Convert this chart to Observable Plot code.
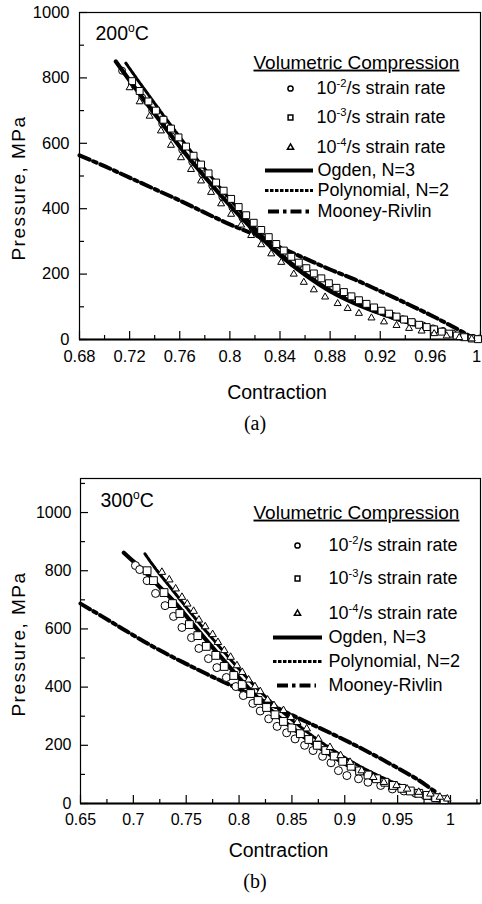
<!DOCTYPE html>
<html>
<head>
<meta charset="utf-8">
<script src="https://cdn.jsdelivr.net/npm/d3@7"></script>
<script src="https://cdn.jsdelivr.net/npm/@observablehq/plot@0.6"></script>
<style>
  body { margin: 0; background: #fff; }
  #page { position: relative; width: 482px; height: 904px; overflow: hidden; background: #fff; }
  .panel { position: absolute; left: 0; }
  .cap { position: absolute; width: 60px; text-align: center; font-family: "Liberation Serif", "Times New Roman", serif; font-size: 20px; line-height: 20px; color: #000; }
</style>
</head>
<body>
<div id="page">
  <div class="panel" id="panelA" style="top:0px"></div>
  <div class="cap" style="left:225px; top:413px">(a)</div>
  <div class="panel" id="panelB" style="top:460px"></div>
  <div class="cap" style="left:225px; top:871px">(b)</div>
</div>
<script>
// ---------- Axis ticks ----------
const xTicksA = [0.68, 0.72, 0.76, 0.8, 0.84, 0.88, 0.92, 0.96, 1];
const xMinorA = [0.70, 0.74, 0.78, 0.82, 0.86, 0.90, 0.94, 0.98];
const yTicksA = [0, 200, 400, 600, 800, 1000];
const yMinorA = [100, 300, 500, 700, 900];

const xTicksB = [0.65, 0.7, 0.75, 0.8, 0.85, 0.9, 0.95, 1];
const xMinorB = [0.675, 0.725, 0.775, 0.825, 0.875, 0.925, 0.975, 1.025];
const yTicksB = [0, 200, 400, 600, 800, 1000];
const yMinorB = [100, 300, 500, 700, 900, 1100];

// ---------- Labels ----------
const tempA = "200^o^C";
const tempB = "300^o^C";
const legendTitle = "Volumetric Compression";
const rateLabels = ["10^-2^/s strain rate", "10^-3^/s strain rate", "10^-4^/s strain rate"];
const modelLabels = ["Ogden, N=3", "Polynomial, N=2", "Mooney-Rivlin"];
const xLabel = "Contraction";
const yLabel = "Pressure, MPa";

// ---------- (a) 200°C : [contraction, pressure MPa] ----------
const circlesA = [[0.714,822],[0.722,781],[0.730,740],[0.738,700],[0.746,660],[0.754,620],[0.762,580],[0.770,543],[0.778,506],[0.786,470],[0.794,436],[0.802,404],[0.810,372],[0.818,342],[0.826,312],[0.834,285],[0.842,259],[0.850,234],[0.858,212],[0.866,191],[0.874,171],[0.882,153],[0.890,137],[0.898,122],[0.906,108],[0.914,95],[0.922,83],[0.930,72],[0.938,62],[0.946,52],[0.954,43],[0.962,34],[0.970,26],[0.978,18],[0.986,11],[0.994,5],[0.999,3]];
const squaresA = [[0.722,790],[0.728,760],[0.735,728],[0.741,700],[0.747,672],[0.753,645],[0.759,618],[0.765,590],[0.771,562],[0.777,535],[0.783,508],[0.789,480],[0.795,455],[0.801,430],[0.807,405],[0.813,380],[0.819,357],[0.825,335],[0.831,313],[0.837,292],[0.843,272],[0.849,253],[0.855,235],[0.861,218],[0.867,202],[0.873,187],[0.879,172],[0.885,158],[0.891,145],[0.897,132],[0.903,120],[0.909,109],[0.915,98],[0.921,88],[0.927,79],[0.933,70],[0.939,61],[0.945,53],[0.951,45],[0.957,38],[0.963,31],[0.969,24],[0.975,18],[0.981,12],[0.987,7],[0.993,3],[0.998,1]];
const trianglesA = [[0.720,770],[0.728,727],[0.736,683],[0.745,638],[0.753,594],[0.761,556],[0.769,520],[0.777,485],[0.785,450],[0.793,415],[0.801,383],[0.809,350],[0.817,318],[0.825,290],[0.833,262],[0.841,236],[0.851,200],[0.859,175],[0.867,152],[0.876,130],[0.886,110],[0.894,95],[0.903,80],[0.913,66],[0.923,54],[0.933,43],[0.943,34],[0.953,26],[0.963,18],[0.973,11],[0.983,6],[0.993,2]];
const ogdenA = [[0.709,850],[0.72,792],[0.74,690],[0.76,590],[0.78,497],[0.80,410],[0.82,330],[0.84,258],[0.86,198],[0.88,148],[0.90,110],[0.92,80],[0.94,55],[0.96,33],[0.98,14],[0.995,2]];
const polynomialA = [[0.717,845],[0.73,775],[0.75,670],[0.77,570],[0.79,475],[0.81,385],[0.83,300],[0.85,232],[0.87,176],[0.89,130],[0.91,94],[0.93,66],[0.95,42],[0.97,22],[0.99,6],[1.0,0]];
const mooneyA = [[0.68,563],[0.70,530],[0.72,495],[0.74,460],[0.76,425],[0.78,388],[0.80,352],[0.82,320],[0.84,282],[0.86,248],[0.88,214],[0.90,183],[0.92,148],[0.94,112],[0.96,75],[0.98,35],[0.995,3]];

// ---------- (b) 300°C : [contraction, pressure MPa] ----------
const circlesB = [[0.702,818],[0.706,804],[0.713,766],[0.721,722],[0.730,680],[0.738,643],[0.746,605],[0.755,570],[0.762,533],[0.771,498],[0.779,467],[0.788,433],[0.797,402],[0.804,371],[0.813,344],[0.820,318],[0.828,291],[0.836,265],[0.845,243],[0.853,222],[0.862,200],[0.870,182],[0.879,162],[0.887,140],[0.894,113],[0.902,96],[0.913,85],[0.922,73],[0.934,62],[0.945,50],[0.956,43],[0.967,35],[0.976,27],[0.987,20],[0.995,13]];
const squaresB = [[0.713,800],[0.719,766],[0.729,725],[0.737,687],[0.744,653],[0.753,615],[0.761,577],[0.769,540],[0.778,509],[0.786,471],[0.795,440],[0.803,409],[0.811,378],[0.818,354],[0.826,330],[0.834,305],[0.842,282],[0.850,260],[0.858,240],[0.866,220],[0.874,200],[0.882,182],[0.890,163],[0.898,145],[0.906,128],[0.914,112],[0.922,98],[0.930,85],[0.938,73],[0.946,62],[0.954,52],[0.962,43],[0.970,35],[0.978,28],[0.986,20],[0.994,13]];
const trianglesB = [[0.727,795],[0.734,769],[0.740,738],[0.746,709],[0.751,686],[0.757,661],[0.762,631],[0.768,608],[0.775,581],[0.780,554],[0.786,526],[0.792,503],[0.798,474],[0.803,451],[0.809,425],[0.815,402],[0.820,385],[0.827,356],[0.833,337],[0.842,320],[0.849,296],[0.855,279],[0.864,257],[0.875,222],[0.886,193],[0.896,165],[0.905,142],[0.916,113],[0.927,90],[0.937,73],[0.949,62],[0.959,50],[0.970,39],[0.981,33],[0.990,22],[0.997,16]];
const ogdenB = [[0.691,862],[0.70,832],[0.71,800],[0.72,762],[0.74,688],[0.76,600],[0.78,515],[0.80,432],[0.82,355],[0.84,290],[0.86,233],[0.88,182],[0.90,137],[0.92,100],[0.94,68],[0.96,42],[0.98,20],[0.995,5]];
const polynomialB = [[0.711,858],[0.72,812],[0.74,720],[0.76,630],[0.78,545],[0.80,462],[0.82,385],[0.84,318],[0.86,258],[0.88,205],[0.90,158],[0.92,117],[0.94,82],[0.96,52],[0.98,25],[0.995,6]];
const mooneyB = [[0.65,687],[0.67,644],[0.69,600],[0.71,557],[0.73,517],[0.75,480],[0.77,444],[0.79,410],[0.81,376],[0.83,340],[0.85,304],[0.87,270],[0.89,236],[0.91,200],[0.93,162],[0.95,122],[0.97,80],[0.985,42]];

// ---------- Shared styles ----------
const FONT = "'Liberation Sans', Arial, Helvetica, sans-serif";
const lineStyles = [
  {strokeWidth: 4.2, strokeDasharray: null},          // Ogden
  {strokeWidth: 3.0, strokeDasharray: "3.5,1.5"},     // Polynomial
  {strokeWidth: 4.0, strokeDasharray: "11,4,3.5,4"}   // Mooney-Rivlin
];
const XY = {x: d => d[0], y: d => d[1]};

function panel(cfg) {
  const W = 482;
  const fw = W - cfg.marginLeft - cfg.marginRight;
  const fh = cfg.height - cfg.marginTop - cfg.marginBottom;
  const frameTop = cfg.top + cfg.marginTop;      // page y of the frame top
  const midY = cfg.marginTop + fh / 2;           // svg y of the frame middle
  const L = cfg.legend;
  // legend helpers (page coordinates -> offsets from the frame corner)
  const at = (px, py) => ({frameAnchor: "top-left", dx: px - cfg.marginLeft, dy: py - frameTop});
  const label = (t, px, py, fs) => Plot.text([t], {text: d => d, ...at(px, py), textAnchor: "start", lineAnchor: "middle", fontSize: fs, fill: "#000"});
  const sample = (i, x1, x2, py) => Plot.ruleY([0], {
    y: null, insetLeft: x1 - cfg.marginLeft, insetRight: W - cfg.marginRight - x2,
    dy: py - cfg.top - midY, stroke: "#000", ...lineStyles[i], strokeLinecap: "butt"
  });
  const S = cfg.series;
  const dots = (data, symbol, r) => Plot.dot(data, {...XY, symbol, r, stroke: "#000", fill: "#fff", strokeWidth: 1});
  const curve = (data, i) => Plot.line(data, {...XY, stroke: "#000", ...lineStyles[i], curve: "catmull-rom"});
  // tick labels; a label sitting on the right edge is nudged inside
  const xMax = cfg.xDomain[1];
  const inner = cfg.xTicks.filter(t => t < xMax);
  const edge = cfg.xTicks.filter(t => t >= xMax);
  const xAxisOpts = {tickSize: 0, tickPadding: cfg.xPad, fontSize: cfg.tickFont, tickFormat: d => String(d), label: null};

  const marks = [
    // frame, heavier base line and inward ticks
    Plot.frame({stroke: "#000", strokeWidth: 1.2}),
    Plot.ruleY([0], {stroke: "#000", strokeWidth: 2}),
    Plot.tickY(cfg.yTicks, {y: d => d, insetRight: fw - 8, stroke: "#000", strokeWidth: 1.2}),
    Plot.tickY(cfg.yMinor, {y: d => d, insetRight: fw - 5, stroke: "#000", strokeWidth: 1.2}),
    Plot.tickX(cfg.xTicks, {x: d => d, insetTop: fh - 8, stroke: "#000", strokeWidth: 1.2}),
    Plot.tickX(cfg.xMinor, {x: d => d, insetTop: fh - 4, stroke: "#000", strokeWidth: 1.2}),
    Plot.axisX(inner, xAxisOpts),
    Plot.axisX(edge, {...xAxisOpts, dx: -4}),
    Plot.axisY(cfg.yTicks, {tickSize: 0, tickPadding: cfg.yPad, fontSize: cfg.tickFont, tickFormat: d => String(d), label: null}),
    // axis titles
    Plot.text([xLabel], {text: d => d, frameAnchor: "bottom", textAnchor: "middle", lineAnchor: "middle", dx: cfg.xLabelDx, dy: cfg.xLabelDy, fontSize: 19.5, fill: "#000"}),
    Plot.text([yLabel], {text: d => d, frameAnchor: "left", textAnchor: "middle", lineAnchor: "middle", dx: cfg.yLabelDx, dy: cfg.yLabelDy, rotate: -90, fontSize: 19, fill: "#000"}),
    // data
    curve(S.mooney, 2)
  ];
  if (cfg.linesOverDots) {
    marks.push(dots(S.circles, "circle", cfg.rc), curve(S.ogden, 0), curve(S.polynomial, 1),
               dots(S.squares, "square", cfg.rs), dots(S.triangles, "triangle", cfg.rt));
  } else {
    marks.push(curve(S.ogden, 0), curve(S.polynomial, 1),
               dots(S.circles, "circle", cfg.rc), dots(S.squares, "square", cfg.rs), dots(S.triangles, "triangle", cfg.rt));
  }
  // temperature tag and legend
  marks.push(
    label(cfg.temp, L.tempX, L.tempY, 19.5),
    label(legendTitle, L.titleX, L.titleY, 19),
    Plot.dot([0], {...at(L.symX, L.rows[0]), symbol: "circle", r: 2.6, stroke: "#000", fill: "#fff"}),
    Plot.dot([0], {...at(L.symX, L.rows[1]), symbol: "square", r: 2.7, stroke: "#000", fill: "#fff"}),
    Plot.dot([0], {...at(L.symX, L.rows[2]), symbol: "triangle", r: 2.3, stroke: "#000", fill: "#fff"}),
    ...rateLabels.map((t, i) => label(t, L.textX, L.rows[i], 18)),
    ...modelLabels.map((t, i) => sample(i, L.lines[i][0], L.lines[i][1], L.rows[3 + i])),
    ...modelLabels.map((t, i) => label(t, L.modelTextX, L.rows[3 + i], 18))
  );

  return Plot.plot({
    width: W,
    height: cfg.height,
    marginTop: cfg.marginTop,
    marginBottom: cfg.marginBottom,
    marginLeft: cfg.marginLeft,
    marginRight: cfg.marginRight,
    x: {domain: cfg.xDomain},
    y: {domain: cfg.yDomain},
    style: {fontFamily: FONT, fontSize: "16px", color: "#000", background: "#fff", overflow: "visible"},
    marks
  });
}

// Rewrites "a^b^c" text into a base, superscript and trailing part; underlines the legend title.
function finishText(svg) {
  d3.select(svg).selectAll("text").each(function () {
    const s = this.textContent;
    if (s === legendTitle) d3.select(this).attr("text-decoration", "underline");
    if (s === yLabel) d3.select(this).style("letter-spacing", "1.5px");
    const m = s.match(/^(.*?)\^(.+?)\^(.*)$/);
    if (!m) return;
    const fs = parseFloat(getComputedStyle(this).fontSize) || 16;
    const el = d3.select(this).text(null);
    el.append("tspan").text(m[1]);
    el.append("tspan").attr("font-size", fs * 0.62).attr("dy", -fs * 0.42).text(m[2]);
    el.append("tspan").attr("dy", fs * 0.42).text(m[3]);
  });
}

const svgA = panel({
  top: 0, height: 405, marginTop: 12, marginBottom: 66, marginLeft: 79, marginRight: 2,
  xDomain: [0.68, 1.0], yDomain: [0, 1000],
  xTicks: xTicksA, xMinor: xMinorA, yTicks: yTicksA, yMinor: yMinorA,
  xPad: 11, yPad: 10, tickFont: 16.5,
  xLabelDx: -3, xLabelDy: 53, yLabelDx: -61, yLabelDy: 12,
  rc: 3.5, rs: 3.9, rt: 2.6, linesOverDots: true,
  temp: tempA,
  series: {circles: circlesA, squares: squaresA, triangles: trianglesA, ogden: ogdenA, polynomial: polynomialA, mooney: mooneyA},
  legend: {tempX: 95, tempY: 33, titleX: 253, titleY: 62, symX: 290, textX: 316, modelTextX: 317,
           rows: [88, 117, 147, 170, 190, 211], lines: [[265, 313], [265, 313], [268, 313]]}
});
document.getElementById("panelA").appendChild(svgA);
finishText(svgA);

const svgB = panel({
  top: 460, height: 410, marginTop: 18, marginBottom: 67, marginLeft: 80, marginRight: 2,
  xDomain: [0.65, 1.0284], yDomain: [0, 1117],
  xTicks: xTicksB, xMinor: xMinorB, yTicks: yTicksB, yMinor: yMinorB,
  xPad: 10, yPad: 9, tickFont: 16,
  xLabelDx: -2, xLabelDy: 47, yLabelDx: -62, yLabelDy: 3,
  rc: 4, rs: 4.4, rt: 2.8, linesOverDots: false,
  temp: tempB,
  series: {circles: circlesB, squares: squaresB, triangles: trianglesB, ogden: ogdenB, polynomial: polynomialB, mooney: mooneyB},
  legend: {tempX: 100, tempY: 500, titleX: 253, titleY: 512, symX: 297, textX: 328, modelTextX: 328,
           rows: [545, 578, 613, 637, 661, 685], lines: [[273, 322], [273, 322], [277, 316]]}
});
document.getElementById("panelB").appendChild(svgB);
finishText(svgB);
</script>
</body>
</html>
